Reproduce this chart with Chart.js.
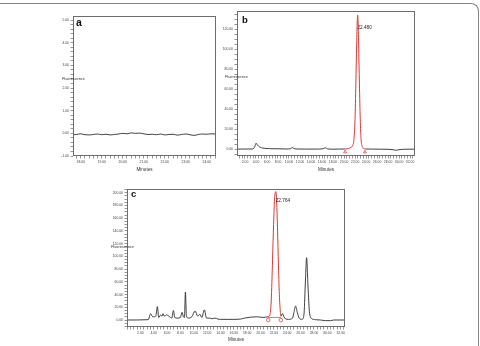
<!DOCTYPE html>
<html>
<head>
<meta charset="utf-8">
<script src="https://cdn.jsdelivr.net/npm/chart.js@4.4.1/dist/chart.umd.min.js"></script>
<style>
  html, body { margin: 0; padding: 0; background: #fff; width: 480px; height: 346px; overflow: hidden; position: relative; }
  canvas { position: absolute; }
  #frame { position: absolute; left: -10px; top: 3px; width: 489px; height: 360px; box-sizing: border-box;
           border-top: 1.5px solid #858585; border-right: 1.5px solid #858585; border-top-right-radius: 8px; }
</style>
</head>
<body>
<div id="frame"></div>
<canvas id="pa" width="212" height="170" style="left:13px;top:6px;width:212px;height:170px"></canvas>
<canvas id="pb" width="220" height="172" style="left:205px;top:4px;width:220px;height:172px"></canvas>
<canvas id="pc" width="260" height="164" style="left:95px;top:182px;width:260px;height:164px"></canvas>
<script>
// ---- panel a : blank run ----
var A_TIME   = [17.63, 17.8, 18.0, 18.2, 18.4, 18.6, 18.8, 19.0, 19.2, 19.4, 19.6, 19.8, 20.0, 20.2, 20.4, 20.6, 20.8, 21.0,
                21.2, 21.4, 21.6, 21.8, 22.0, 22.2, 22.4, 22.6, 22.8, 23.0, 23.2, 23.4, 23.6, 23.8, 24.0, 24.2, 24.44];
var A_SIGNAL = [-0.06, -0.05, -0.02, -0.06, -0.07, -0.05, -0.03, -0.06, -0.04, -0.07, -0.05, -0.03, 0.0, -0.02, 0.02, 0.0, 0.01, -0.02,
                -0.05, -0.04, -0.06, -0.03, -0.07, -0.05, -0.04, -0.08, -0.05, -0.03, -0.06, -0.09, -0.05, -0.03, -0.04, -0.02, -0.03];
var A_X_LABELS = [18, 19, 20, 21, 22, 23, 24];
var A_Y_LABELS = [-1, 0, 1, 2, 3, 4, 5];

// ---- panel b : standard ----
var B_TIME   = [0.5, 3.3, 3.6, 3.8, 4.0, 4.3, 4.6, 5.0, 5.5, 6.5, 8, 9.5, 10.3, 10.6, 10.9, 11.5, 13, 15, 16.2, 16.6, 17.0, 18, 19, 20.2,
                22.0, 23.9, 25, 26.5, 28, 29, 29.5, 30, 31, 32, 33];
var B_SIGNAL = [0.2, 0.3, 1, 3, 6, 4, 2.5, 1.5, 1, 0.6, 0.5, 0.3, 0.6, 1.8, 0.6, 0.3, 0.2, 0.2, 0.5, 1.5, 0.4, 0.1, 0.2, 0.3,
                null, 0.3, 0.2, 0.1, 0.0, -0.5, -1, -0.4, 0, 0.1, 0.1];
var B_PEAK_TIME   = [20.2, 20.8, 21.3, 21.6, 21.8, 22.0, 22.15, 22.3, 22.4, 22.48, 22.55, 22.65, 22.8, 22.95, 23.1, 23.3, 23.5, 23.9];
var B_PEAK_SIGNAL = [0.3, 0.8, 2, 4, 10, 30, 65, 105, 127, 134, 128, 105, 65, 30, 10, 3, 1.2, 0.3];
var B_MARK_TIME   = [20.2, 23.8];
var B_MARK_SIGNAL = [-2.7, -2.7];
var B_X_LABELS = [2, 4, 6, 8, 10, 12, 14, 16, 18, 20, 22, 24, 26, 28, 30, 32];
var B_Y_LABELS = [0, 20, 40, 60, 80, 100, 120];

// ---- panel c : sample ----
var C_TIME   = [0, 3.2, 3.4, 3.55, 3.75, 3.95, 4.3, 4.55, 4.75, 5.05, 5.25, 5.4, 5.6, 5.9, 6.15, 6.4, 6.7, 6.95, 7.15, 7.5,
                8.0, 8.25, 8.45, 8.6, 8.75, 8.9, 9.2, 9.7, 10.2, 10.6, 10.9, 11.2, 11.6, 11.9, 12.4, 12.7, 13.15, 13.6, 14,
                15, 16, 17, 17.6, 18.5, 19.5, 20.5, 21.0, 21.15,
                22.1,
                23.05, 23.3, 23.5, 23.7, 24.2, 24.8, 25.0, 25.25, 25.5, 25.8, 26.2, 26.5, 26.7, 26.9, 27.1, 27.35, 27.7,
                28.2, 29, 29.7, 30.5, 31, 32.65];
var C_SIGNAL = [0, 0.5, 7, 10, 6, 5, 6, 21, 4, 8, 6, 10, 6, 8, 7, 5, 3, 15, 4, 3,
                4, 12, 5, 4, 44, 6, 3, 5, 14, 6, 9, 4, 16, 3, 3, 2, 3, 1.5, 1,
                1, 1, 1.5, 3, 4.5, 5, 4, 5, 5,
                null,
                6, 10, 5, 2, 1, 3, 12, 22, 12, 3, 1, 8, 55, 98, 55, 10, 2,
                0.5, 0, -1, -1, 0, 0];
var C_PEAK_TIME   = [21.15, 21.4, 21.6, 21.8, 21.95, 22.1, 22.2, 22.3, 22.4, 22.5, 22.65, 22.8, 22.95, 23.05];
var C_PEAK_SIGNAL = [5, 8, 30, 95, 150, 190, 200, 202, 190, 160, 100, 45, 15, 6];
var C_BASE_TIME   = [21.15, 23.05];
var C_BASE_SIGNAL = [4, 4];
var C_MARK_TIME   = [21.15, 23.05];
var C_MARK_SIGNAL = [0, 0];
var C_X_LABELS = [2, 4, 6, 8, 10, 12, 14, 16, 18, 20, 22, 24, 26, 28, 30, 32];
var C_Y_LABELS = [0, 20, 40, 60, 80, 100, 120, 140, 160, 180, 200];

var FONT = '"Liberation Sans", Arial, sans-serif';
var TRACE = '#2b2b2b';
var RED = '#d63a35';

Chart.defaults.font.family = FONT;

function pts(xs, ys) {
  return xs.map(function(x, i) { return { x: x, y: ys[i] }; });
}

// minor ticks every `step`, labels only on the majors
function tickAxis(min, max, step, majors, size, extra) {
  return Object.assign({
    type: 'linear', min: min, max: max,
    afterBuildTicks: function(s) {
      var t = [];
      for (var k = Math.ceil(min / step - 1e-9); k * step <= max + 1e-9; k++) {
        t.push({ value: Math.round(k * step * 1000) / 1000 });
      }
      s.ticks = t;
    },
    ticks: {
      autoSkip: false, maxRotation: 0, minRotation: 0, padding: 1.5,
      color: '#444', font: { size: 3.4 },
      callback: function(v) {
        for (var i = 0; i < majors.length; i++) {
          if (Math.abs(majors[i] - v) < 1e-6) return v.toFixed(2);
        }
        return '';
      }
    },
    grid: { drawOnChartArea: false, drawTicks: true, tickLength: 2.5, color: '#6a6a6a', lineWidth: 0.7 },
    border: { display: false }
  }, extra);
}

var deco = {
  id: 'deco',
  afterDatasetsDraw: function(chart, args, o) {
    var ctx = chart.ctx, a = chart.chartArea, sc = chart.scales;
    ctx.save();
    ctx.strokeStyle = '#6c6c6c';
    ctx.lineWidth = 1;
    ctx.strokeRect(Math.round(a.left) + 0.5, Math.round(a.top) + 0.5,
                   Math.round(a.right - a.left) - 1, Math.round(a.bottom - a.top) - 1);
    ctx.fillStyle = '#111';
    ctx.textAlign = 'left';
    ctx.textBaseline = 'alphabetic';
    ctx.font = 'bold ' + o.letterSize + 'px ' + FONT;
    ctx.fillText(o.letter, a.left + o.letterDx, a.top + o.letterDy);
    ctx.fillStyle = '#333';
    ctx.textBaseline = 'middle';
    ctx.font = '3.8px ' + FONT;
    ctx.fillText('Fluorescence', a.left + o.yTitleDx, sc.y.getPixelForValue(o.yTitleAt));
    if (o.peak) {
      ctx.font = '4.7px ' + FONT;
      ctx.fillStyle = '#222';
      ctx.fillText(o.peak.text, sc.x.getPixelForValue(o.peak.x), sc.y.getPixelForValue(o.peak.y));
    }
    ctx.restore();
  }
};

function line(data, color, width) {
  return { data: data, borderColor: color, borderWidth: width, pointRadius: 0, fill: false,
           cubicInterpolationMode: 'monotone', spanGaps: false };
}
function marks(data, style) {
  return { data: data, showLine: false, pointStyle: style, pointRadius: 1.8, borderWidth: 0.7,
           pointBorderColor: RED, pointBackgroundColor: 'rgba(0,0,0,0)' };
}

function panel(id, cfg) {
  return new Chart(document.getElementById(id), {
    type: 'line',
    data: { datasets: cfg.datasets },
    options: {
      responsive: false, animation: false, devicePixelRatio: 1,
      layout: { padding: { left: 0, top: cfg.padTop, right: cfg.padRight, bottom: 0 } },
      plugins: { legend: { display: false }, tooltip: { enabled: false }, deco: cfg.deco },
      scales: {
        x: tickAxis(cfg.x[0], cfg.x[1], cfg.x[2], cfg.xLabels, 3.4, {
          position: 'bottom',
          afterFit: function(s) { s.height = cfg.xHeight; },
          title: { display: true, text: 'Minutes', color: '#333', font: { size: 4.6 }, padding: { top: 0, bottom: 4 } }
        }),
        y: tickAxis(cfg.y[0], cfg.y[1], cfg.y[2], cfg.yLabels, 3.4, {
          position: 'left',
          afterFit: function(s) { s.width = cfg.yWidth; }
        })
      }
    },
    plugins: [deco]
  });
}

panel('pa', {
  datasets: [line(pts(A_TIME, A_SIGNAL), TRACE, 0.9)],
  x: [17.63, 24.44, 0.2], xLabels: A_X_LABELS,
  y: [-1, 5.18, 0.2], yLabels: A_Y_LABELS,
  padTop: 10, padRight: 9, xHeight: 20, yWidth: 60,
  deco: { letter: 'a', letterSize: 10.5, letterDx: 3, letterDy: 9.5, yTitleDx: -11, yTitleAt: 2.4 }
});

panel('pb', {
  datasets: [
    line(pts(B_TIME, B_SIGNAL), TRACE, 0.9),
    line(pts(B_PEAK_TIME, B_PEAK_SIGNAL), RED, 1),
    marks(pts(B_MARK_TIME, B_MARK_SIGNAL), 'triangle')
  ],
  x: [0.55, 32.9, 0.5], xLabels: B_X_LABELS,
  y: [-6.7, 138, 5], yLabels: B_Y_LABELS,
  padTop: 7, padRight: 10, xHeight: 20, yWidth: 32,
  deco: { letter: 'b', letterSize: 9.5, letterDx: 5, letterDy: 12.3, yTitleDx: -12, yTitleAt: 72,
          peak: { text: '22.480', x: 22.45, y: 121 } }
});

panel('pc', {
  datasets: [
    line(pts(C_TIME, C_SIGNAL), TRACE, 0.9),
    line(pts(C_PEAK_TIME, C_PEAK_SIGNAL), RED, 1),
    line(pts(C_BASE_TIME, C_BASE_SIGNAL), RED, 0.7),
    marks(pts(C_MARK_TIME, C_MARK_SIGNAL), 'circle')
  ],
  x: [0, 32.65, 0.5], xLabels: C_X_LABELS,
  y: [-11, 206, 5], yLabels: C_Y_LABELS,
  padTop: 7, padRight: 10, xHeight: 19, yWidth: 32,
  deco: { letter: 'c', letterSize: 9.5, letterDx: 4, letterDy: 8, yTitleDx: -16, yTitleAt: 115,
          peak: { text: '22.764', x: 22.28, y: 187 } }
});
</script>
</body>
</html>
